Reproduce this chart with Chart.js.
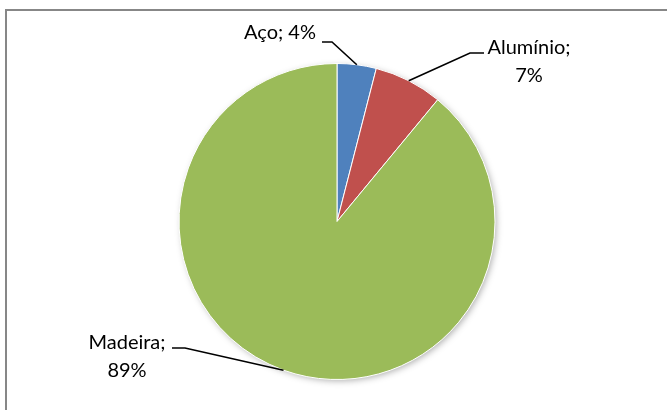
<!DOCTYPE html>
<html lang="pt">
<head>
<meta charset="UTF-8">
<title>Materiais</title>
<script src="https://cdn.jsdelivr.net/npm/chart.js"></script>
<style>
  html, body { margin: 0; padding: 0; background: #fff; }
  #wrap { width: 667px; height: 410px; }
</style>
</head>
<body>
<div id="wrap"><canvas id="pieChart" width="667" height="410"></canvas></div>
<script>
// data
const categories = ['Aço', 'Alumínio', 'Madeira'];
const shares = [4, 7, 89];
const sliceLabels = [['Aço; 4%'], ['Alumínio;', '7%'], ['Madeira;', '89%']];
const sliceColors = ['#4F81BD', '#C0504D', '#9BBB59'];

// where each label sits and where its leader line starts (text block anchor)
const labelLayout = [
  { x: 280, y: 39, lineFrom: [322, 42], elbow: [332, 42] },
  { x: 529, y: 54, lineFrom: [484, 53], elbow: [470, 53] },
  { x: 127, y: 349, lineFrom: [172, 348], elbow: [185, 348] }
];
const labelFont = '20px Lato';
const lineGap = 28;

// frame around the chart + soft shadow under the pie
const framePlugin = {
  id: 'frame',
  beforeDraw(chart) {
    const ctx = chart.ctx;
    ctx.save();
    ctx.strokeStyle = '#878787';
    ctx.lineWidth = 2;
    ctx.strokeRect(6, 10, 700, 450);
    ctx.restore();
  },
  beforeDatasetsDraw(chart) {
    const arc = chart.getDatasetMeta(0).data[0];
    if (!arc) return;
    const ctx = chart.ctx;
    ctx.save();
    ctx.shadowColor = 'rgba(0,0,0,0.35)';
    ctx.shadowBlur = 7;
    ctx.shadowOffsetX = 2;
    ctx.shadowOffsetY = 2;
    ctx.fillStyle = '#fff';
    ctx.beginPath();
    ctx.arc(arc.x, arc.y, arc.outerRadius - 1, 0, Math.PI * 2);
    ctx.fill();
    ctx.restore();
  }
};

// labels with leader lines to the middle of each slice's outer edge
const leaderLabels = {
  id: 'leaderLabels',
  afterDatasetsDraw(chart) {
    const ctx = chart.ctx;
    const arcs = chart.getDatasetMeta(0).data;
    ctx.save();
    arcs.forEach((arc, i) => {
      const mid = (arc.startAngle + arc.endAngle) / 2;
      const ex = arc.x + Math.cos(mid) * arc.outerRadius;
      const ey = arc.y + Math.sin(mid) * arc.outerRadius;
      const lay = labelLayout[i];
      ctx.strokeStyle = '#000';
      ctx.lineWidth = 1.6;
      ctx.beginPath();
      ctx.moveTo(lay.lineFrom[0], lay.lineFrom[1]);
      ctx.lineTo(lay.elbow[0], lay.elbow[1]);
      ctx.lineTo(ex, ey);
      ctx.stroke();

      ctx.fillStyle = '#000';
      ctx.font = labelFont;
      ctx.textAlign = 'center';
      ctx.textBaseline = 'alphabetic';
      sliceLabels[i].forEach((t, k) => {
        ctx.fillText(t, lay.x, lay.y + k * lineGap);
      });
    });
    ctx.restore();
  }
};

new Chart(document.getElementById('pieChart'), {
  type: 'pie',
  data: {
    labels: categories,
    datasets: [{
      data: shares,
      backgroundColor: sliceColors,
      borderColor: '#fff',
      borderWidth: 1
    }]
  },
  options: {
    responsive: false,
    animation: false,
    layout: { padding: { top: 63, bottom: 30, left: 7, right: 0 } },
    plugins: {
      legend: { display: false },
      tooltip: { enabled: false }
    }
  },
  plugins: [framePlugin, leaderLabels]
});
</script>
</body>
</html>
